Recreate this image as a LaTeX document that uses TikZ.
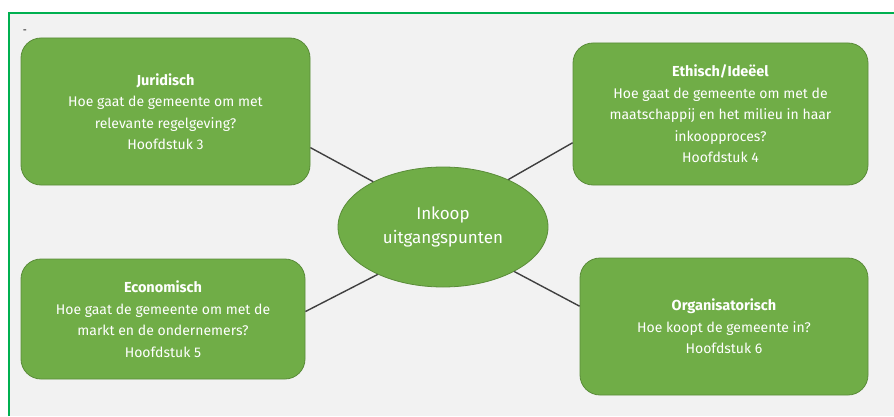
\documentclass[tikz,border=0pt]{standalone}
\usepackage{fontspec}
\setmainfont{Fira Sans}
\usepackage{tikz}
\usetikzlibrary{shapes.geometric,positioning}

\definecolor{boxgreen}{HTML}{70AD47}
\definecolor{boxedge}{HTML}{5A8C39}
\definecolor{framegreen}{HTML}{00B050}
\definecolor{panel}{HTML}{F2F2F2}
\definecolor{spoke}{HTML}{404040}

\newcommand{\topichead}[1]{{\fontsize{14.5}{21.5}\selectfont\bfseries #1}}

\begin{document}
\begin{tikzpicture}[x=1pt,y=1pt,
        topic/.style={rectangle, rounded corners=20pt, fill=boxgreen, draw=boxedge, line width=0.8pt,
            text=white, align=center, font=\fontsize{14}{21.5}\selectfont, inner sep=0pt},
        hub/.style={ellipse, fill=boxgreen, draw=boxedge, line width=0.8pt, text=white, align=center,
            font=\fontsize{17}{24}\selectfont, minimum width=210pt, minimum height=120pt, inner sep=0pt},
        link/.style={draw=spoke, line width=1.4pt}]
            \useasboundingbox (0,0) rectangle (894,416);
            \fill[panel] (9,0) rectangle (894,403);
            \draw[framegreen, line width=2pt] (9,0) -- (9,403) -- (894,403);
            \node[font=\fontsize{10}{12}\selectfont] (dash) at (25,384) {-};

            \node[hub] (ell) at (443,189) {Inkoop\\uitgangspunten};
            \node[topic, minimum width=289pt, minimum height=147pt] (jur) at (165.5,304.5)
                {\topichead{Juridisch}\\Hoe gaat de gemeente om met\\relevante regelgeving?\\Hoofdstuk 3};
            \node[topic, minimum width=295pt, minimum height=142pt] (eth) at (720.5,302)
                {\topichead{Ethisch/Ideëel}\\Hoe gaat de gemeente om met de\\maatschappij en het milieu in haar\\inkoopproces?\\Hoofdstuk 4};
            \node[topic, minimum width=284pt, minimum height=120pt] (eco) at (163,97)
                {\topichead{Economisch}\\Hoe gaat de gemeente om met de\\markt en de ondernemers?\\Hoofdstuk 5};
            \node[topic, minimum width=288pt, minimum height=137pt] (org) at (724,89.5)
                {\topichead{Organisatorisch}\\Hoe koopt de gemeente in?\\Hoofdstuk 6};

            \draw[link] (jur.-14) -- (ell.147.5);
            \draw[link] (eth.191) -- (ell.36);
            \draw[link] (eco.3.6) -- (ell.216);
            \draw[link] (org.172.7) -- (ell.-32);
        \end{tikzpicture}
\end{document}
